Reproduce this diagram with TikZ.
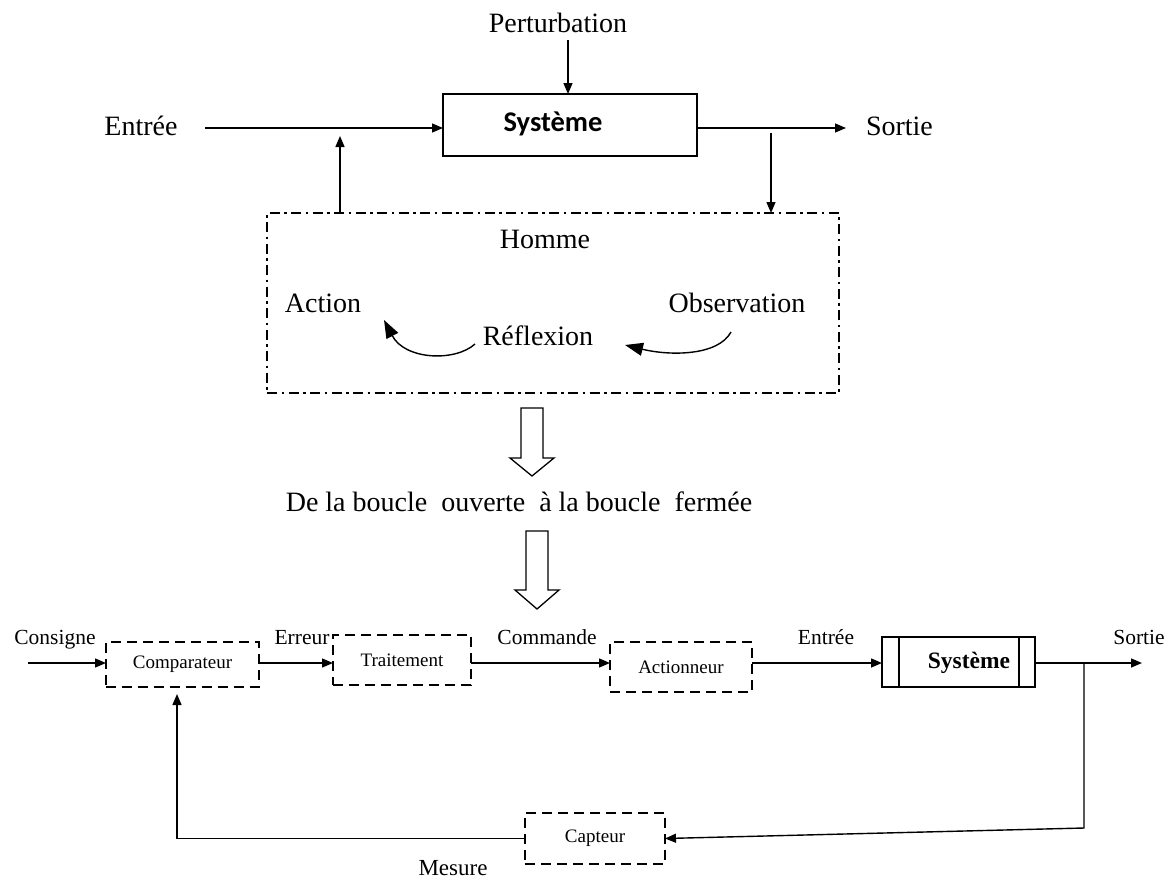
\documentclass[tikz,border=0pt]{standalone}
\usepackage{fontspec}
\setmainfont{Liberation Serif}
\newfontfamily\headfont{Carlito}
\usetikzlibrary{arrows.meta}

\begin{document}
\begin{tikzpicture}[x=1pt,y=-1pt,
  every node/.style={inner sep=0pt, outer sep=0pt},
  big/.style={font=\fontsize{28}{32}\selectfont},
  mid/.style={font=\fontsize{21.5}{24}\selectfont},
  small/.style={font=\fontsize{19}{22}\selectfont},
  line/.style={line width=1.4pt},
  arr/.style={line width=1.4pt, -{Triangle[length=11pt,width=9pt]}},
  solidbox/.style={draw, line width=1.8pt, rectangle},
  dashbox/.style={draw, line width=1.6pt, dash pattern=on 10pt off 6pt, rectangle, small},
  humanbox/.style={draw, line width=1.2pt, dash pattern=on 10pt off 4.5pt on 2.5pt off 4.5pt},
  curvearr/.style={line width=1.4pt, -{Triangle[length=18pt,width=13pt]}},
  hollow/.style={draw, line width=1.3pt, fill=white, line join=miter},
]
\useasboundingbox (0,0) rectangle (1175,879);

% ---------- open loop: system with a human operator ----------
\node[solidbox, minimum width=254pt, minimum height=62pt] (sys1) at (570,125) {};
\node[font=\headfont\bfseries\fontsize{28.5}{32}\selectfont] (sys1t) at (553,124) {Système};

\node[big, anchor=base] (pert) at (558,32) {Perturbation};
\node[big, anchor=base] (ein) at (141,135) {Entrée};
\node[big, anchor=base west] (sout) at (866,135) {Sortie};

\coordinate (ein0) at (205,128);
\coordinate (p0) at (568,40);
\coordinate (s0) at (846,128);
\draw[arr] (ein0) -- (ein0 -| sys1.west);
\draw[arr] (p0) -- (p0 |- sys1.north);
\draw[arr] (ein0 -| sys1.east) -- (s0);

\node[humanbox, minimum width=572pt, minimum height=180pt] (homme) at (553,303) {};
\coordinate (obs0) at (771,133);
\coordinate (act0) at (340,136);
\draw[arr] (obs0) -- (obs0 |- homme.north);
\draw[arr] (act0 |- homme.north) -- (act0);

\node[big, anchor=base] (hom) at (545,248) {Homme};
\node[big, anchor=base] (action) at (323,312) {Action};
\node[big, anchor=base] (observ) at (737,312) {Observation};
\node[big, anchor=base] (reflex) at (538,345) {Réflexion};

% the reflection cycle arrows
\coordinate (la) at (475,344);
\coordinate (lb) at (384,320);
\coordinate (ra) at (731,332);
\coordinate (rb) at (625,345);
\draw[curvearr] (la) .. controls (455,362) and (405,360) .. (lb);
\draw[curvearr] (ra) .. controls (718,356) and (670,356) .. (rb);

% ---------- transition ----------
\draw[hollow] (521,408) -- (543,408) -- (543,458) -- (554,458) -- (532,476)
  -- (510,458) -- (521,458) -- cycle;
\node[big, anchor=base] (trans) at (519,511)
  {De la boucle\ \ ouverte\ \ à la boucle\ \ fermée};
\draw[hollow] (526,531) -- (548,531) -- (548,590) -- (559,590) -- (537,609)
  -- (515,590) -- (526,590) -- cycle;

% ---------- closed loop ----------
\node[dashbox, minimum width=153pt, minimum height=45pt] (comp) at (182.5,664.5) {Comparateur};
\node[dashbox, minimum width=138pt, minimum height=50pt] (trait) at (402,660) {Traitement};
\node[dashbox, minimum width=142pt, minimum height=50pt] (act) at (681,667) {Actionneur};
\node[solidbox, line width=1.6pt, minimum width=153pt, minimum height=50pt] (sys2) at (958.5,662) {};
\draw[line] ([xshift=17pt]sys2.north west) -- ([xshift=17pt]sys2.south west);
\draw[line] ([xshift=-16pt]sys2.north east) -- ([xshift=-16pt]sys2.south east);
\node[font=\bfseries\fontsize{23.5}{26}\selectfont] (sys2t) at (969,663) {Système};
\node[dashbox, minimum width=140pt, minimum height=51pt] (capt) at (595,838.5) {Capteur};

\node[mid, anchor=base] (cons) at (55,644) {Consigne};
\node[mid, anchor=base] (err) at (302,644) {Erreur};
\node[mid, anchor=base] (cmd) at (547,644) {Commande};
\node[mid, anchor=base] (ein2) at (826,644) {Entrée};
\node[mid, anchor=base] (sout2) at (1139,644) {Sortie};
\node[mid, font=\fontsize{23}{26}\selectfont, anchor=base] (mes) at (453,875) {Mesure};

\coordinate (c0) at (28,663);
\coordinate (out2) at (1142,663);
\coordinate (br) at (1084,663);
\coordinate (brd) at (1084,828);
\coordinate (fb) at (177,836);
\draw[arr] (c0) -- (c0 -| comp.west);
\draw[arr] (c0 -| comp.east) -- (c0 -| trait.west);
\draw[arr] (c0 -| trait.east) -- (c0 -| act.west);
\draw[arr] (c0 -| act.east) -- (c0 -| sys2.west);
\draw[arr] (c0 -| sys2.east) -- (out2);
\draw[arr] (br) -- (brd) -- (capt.east);
\draw[arr, shorten >=7pt] (capt.west) -- (capt.west -| fb) -- (fb |- comp.south);
\end{tikzpicture}
\end{document}
